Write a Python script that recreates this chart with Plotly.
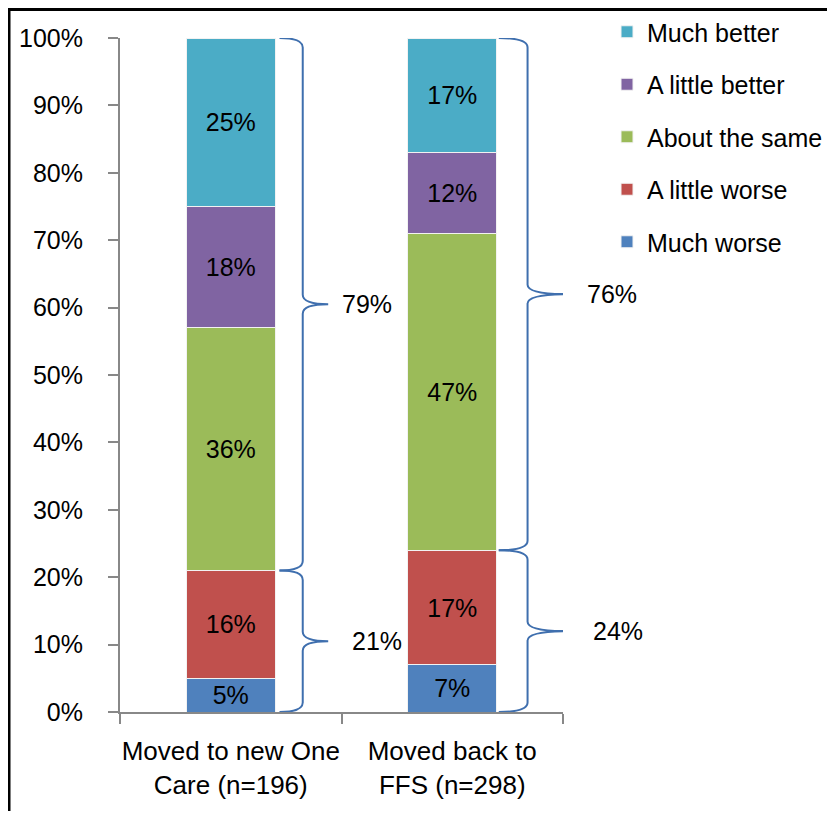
import plotly.graph_objects as go

# --- data ---
categories = ["Moved to new One<br>Care (n=196)", "Moved back to<br>FFS (n=298)"]
much_worse = [5, 7]
little_worse = [16, 17]
about_same = [36, 47]
little_better = [18, 12]
much_better = [25, 17]
better_or_same_pct = [79, 76]
worse_pct = [21, 24]
y_ticks = list(range(0, 101, 10))

FONT = "Liberation Sans, Arial"
FS = 25
BRACE_COLOR = "#3F6FAE"

# the page body keeps an 8px margin, so size the figure to fit inside it
W, H = 819, 803
L, R, T, B = 112, 264, 30, 99
PW, PH = W - L - R, H - T - B

series = [
    ("Much worse", much_worse, "#4F81BD"),
    ("A little worse", little_worse, "#C0504D"),
    ("About the same", about_same, "#9BBB59"),
    ("A little better", little_better, "#8064A2"),
    ("Much better", much_better, "#4BACC6"),
]

fig = go.Figure()
for i, (name, vals, color) in enumerate(series):
    fig.add_trace(
        go.Bar(
            x=categories,
            y=vals,
            name=name,
            legendgroup=name,
            legendrank=len(series) - i,
            marker=dict(color=color, line=dict(color="#F2F2F2", width=1)),
            width=0.4,
            text=[f"{v}%" for v in vals],
            textposition="inside",
            insidetextanchor="middle",
            textfont=dict(color="black", size=FS, family=FONT),
            hoverinfo="skip",
        )
    )


def brace_path(x0, xs, xt, yt, yb, r=1.4):
    ym = (yt + yb) / 2
    return (
        f"M {x0},{yt} Q {xs},{yt} {xs},{yt - r} "
        f"L {xs},{ym + r} Q {xs},{ym} {xt},{ym} "
        f"Q {xs},{ym} {xs},{ym - r} "
        f"L {xs},{yb + r} Q {xs},{yb} {x0},{yb}"
    )


def to_paper(xv):
    # x2 range is [-0.5, 1.5]
    return (xv + 0.5) / 2


# brace geometry offsets per bar (x2 units)
start_off = [0.22, 0.21]
spine_off = [0.325, 0.34]
tip_off = [0.44, 0.52]
label_off = [0.615, 0.72]
label_off_low = [0.66, 0.75]

shapes = []
annotations = []
for i in range(len(categories)):
    split = much_worse[i] + little_worse[i]
    total = split + about_same[i] + little_better[i] + much_better[i]
    for yt, yb in [(total, split), (split, 0)]:
        shapes.append(
            dict(
                type="path",
                xref="x2",
                yref="y",
                path=brace_path(i + start_off[i], i + spine_off[i], i + tip_off[i], yt, yb),
                line=dict(color=BRACE_COLOR, width=2),
            )
        )
    annotations.append(
        dict(x=to_paper(i + label_off[i]), y=(total + split) / 2, xref="paper", yref="y",
             xanchor="center", yanchor="middle",
             text=f"{better_or_same_pct[i]}%", showarrow=False,
             font=dict(size=FS, family=FONT, color="black"))
    )
    annotations.append(
        dict(x=to_paper(i + label_off_low[i]), y=split / 2, xref="paper", yref="y",
             xanchor="center", yanchor="middle",
             text=f"{worse_pct[i]}%", showarrow=False,
             font=dict(size=FS, family=FONT, color="black"))
    )

# outer frame (right/bottom edges fall outside the picture)
shapes.append(
    dict(type="rect", xref="paper", yref="paper",
         x0=(1 - L) / PW, x1=(W + 20 - L) / PW,
         y0=-(B + 20) / PH, y1=1 + (T - 1.5) / PH,
         line=dict(color="black", width=3))
)

# dummy trace to anchor the overlay axis
fig.add_trace(go.Scatter(x=[None], y=[None], xaxis="x2", showlegend=False))

fig.update_layout(
    width=W,
    height=H,
    barmode="stack",
    margin=dict(l=L, r=R, t=T, b=B, autoexpand=False),
    paper_bgcolor="white",
    plot_bgcolor="white",
    font=dict(family=FONT, size=FS, color="black"),
    uniformtext=dict(mode="show", minsize=FS),
    shapes=shapes,
    annotations=annotations,
    xaxis=dict(
        showline=True, linecolor="#888888", linewidth=2,
        ticks="outside", ticklen=10, tickcolor="#888888", tickwidth=1.5,
        tickson="boundaries", showgrid=False, range=[-0.5, 1.5],
        tickangle=0, automargin=False, ticklabelstandoff=15,
        tickfont=dict(size=26, family=FONT),
    ),
    xaxis2=dict(overlaying="x", range=[-0.5, 1.5], visible=False),
    yaxis=dict(
        range=[0, 100], tickvals=y_ticks, ticktext=[f"{t}%" for t in y_ticks],
        showline=True, linecolor="#888888", linewidth=2,
        ticks="outside", ticklen=10, tickcolor="#888888", tickwidth=1.5,
        showgrid=False, zeroline=False, ticklabelstandoff=20, automargin=False,
        tickfont=dict(size=FS, family=FONT),
    ),
    legend=dict(
        x=(599 - L) / PW, y=1 + 29 / PH, xanchor="left", yanchor="top",
        traceorder="grouped", tracegroupgap=17,
        font=dict(size=FS, family=FONT), bgcolor="rgba(0,0,0,0)",
        itemwidth=30,
    ),
    showlegend=True,
)

fig.write_html("out.html")
